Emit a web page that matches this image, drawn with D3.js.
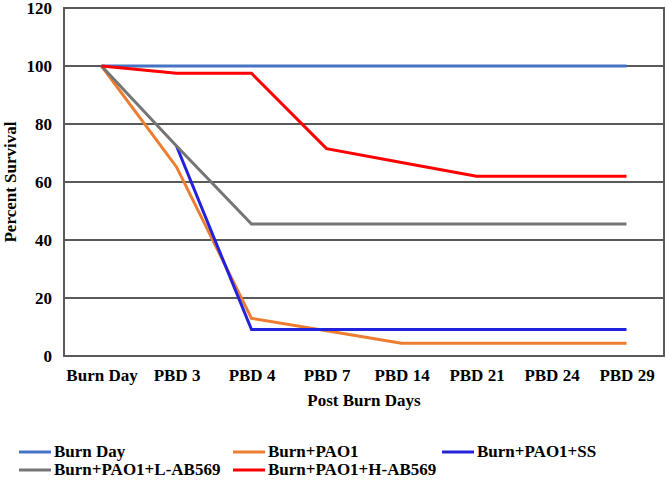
<!DOCTYPE html>
<html>
<head>
<meta charset="utf-8">
<script src="https://cdn.jsdelivr.net/npm/d3@7"></script>
<style>
  body { margin: 0; background: #fff; }
</style>
</head>
<body>
<div id="chart"></div>
<script>
// categories and series
var days = ["Burn Day", "PBD 3", "PBD 4", "PBD 7", "PBD 14", "PBD 21", "PBD 24", "PBD 29"];
var burnDay = [100, 100, 100, 100, 100, 100, 100, 100];
var pao1 = [100, 65.2, 13, 8.7, 4.4, 4.4, 4.4, 4.4];
var pao1SS = [null, 72.4, 9.1, 9.1, 9.1, 9.1, 9.1, 9.1];
var pao1L = [100, 72.4, 45.5, 45.5, 45.5, 45.5, 45.5, 45.5];
var pao1H = [100, 97.5, 97.5, 71.5, 66.7, 62, 62, 62];
var yTicks = [0, 20, 40, 60, 80, 100, 120];

var series = [
    { name: "Burn Day", values: burnDay, color: "#4472C4" },
    { name: "Burn+PAO1", values: pao1, color: "#ED7D31" },
    { name: "Burn+PAO1+SS", values: pao1SS, color: "#2222DD" },
    { name: "Burn+PAO1+L-AB569", values: pao1L, color: "#757575" },
    { name: "Burn+PAO1+H-AB569", values: pao1H, color: "#FF0000" }
];

var serif = "Liberation Serif, DejaVu Serif, serif";

var margin = { top: 8, right: 2, bottom: 131, left: 64 },
    width = 666 - margin.left - margin.right,
    height = 487 - margin.top - margin.bottom;

var svg = d3.select("#chart").append("svg")
    .attr("width", 666)
    .attr("height", 487)
    .style("font-family", serif)
    .style("font-weight", "bold");

var g = svg.append("g")
    .attr("transform", "translate(" + margin.left + "," + margin.top + ")");

var x = d3.scalePoint()
    .domain(days)
    .range([0, width])
    .padding(0.5);
var y = d3.scaleLinear()
    .domain([0, 120])
    .range([height, 0]);

// gridlines
g.selectAll(".grid")
    .data(yTicks)
    .enter().append("line")
    .attr("x1", 0)
    .attr("x2", width)
    .attr("y1", function(d) { return y(d); })
    .attr("y2", function(d) { return y(d); })
    .style("stroke", "#595959")
    .style("stroke-width", 2);

// frame
g.append("rect")
    .attr("width", width)
    .attr("height", height)
    .style("fill", "none")
    .style("stroke", "#595959")
    .style("stroke-width", 2);

// lines
var line = d3.line()
    .defined(function(d) { return d != null; })
    .x(function(d, i) { return x(days[i]); })
    .y(function(d) { return y(d); });

g.selectAll(".series")
    .data(series)
    .enter().append("path")
    .attr("d", function(s) { return line(s.values); })
    .style("fill", "none")
    .style("stroke", function(s) { return s.color; })
    .style("stroke-width", 3);

// axes
var yAxis = g.append("g")
    .call(d3.axisLeft(y).tickValues(yTicks).tickSize(0).tickPadding(12))
    .attr("font-family", null);
yAxis.select(".domain").remove();
yAxis.selectAll("text").attr("fill", "#000").style("font-size", "17px");

var xAxis = g.append("g")
    .attr("transform", "translate(0," + height + ")")
    .call(d3.axisBottom(x).tickSize(0).tickPadding(13))
    .attr("font-family", null);
xAxis.select(".domain").remove();
xAxis.selectAll("text").attr("fill", "#000").style("font-size", "17px");

// axis titles
svg.append("text")
    .attr("transform", "translate(16," + (margin.top + height / 2) + ") rotate(-90)")
    .attr("text-anchor", "middle")
    .style("font-size", "17px")
    .text("Percent Survival");

svg.append("text")
    .attr("x", margin.left + width / 2)
    .attr("y", 406)
    .attr("text-anchor", "middle")
    .style("font-size", "17px")
    .text("Post Burn Days");

// legend
var legendPos = [[19, 452], [233, 452], [442, 452], [19, 470], [233, 470]];
var legend = svg.selectAll(".legend")
    .data(series)
    .enter().append("g")
    .attr("transform", function(d, i) { return "translate(" + legendPos[i][0] + "," + legendPos[i][1] + ")"; });

legend.append("line")
    .attr("x1", 0)
    .attr("x2", 32)
    .style("stroke", function(d) { return d.color; })
    .style("stroke-width", 3);

legend.append("text")
    .attr("x", 35)
    .attr("dy", "0.32em")
    .style("font-size", "17px")
    .text(function(d) { return d.name; });
</script>
</body>
</html>
